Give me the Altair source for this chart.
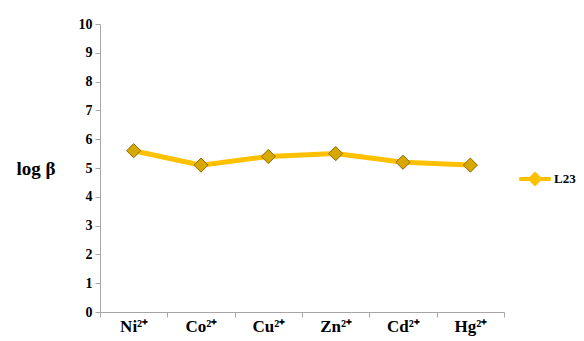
import altair as alt
import pandas as pd

ions = ["Ni²⁺", "Co²⁺", "Cu²⁺", "Zn²⁺", "Cd²⁺", "Hg²⁺"]
log_beta = [5.6, 5.1, 5.4, 5.5, 5.2, 5.1]
series = ["L23"] * 6

df = pd.DataFrame({"ion": ions, "logb": log_beta, "series": series})

FONT = "Liberation Serif"

x = alt.X("ion:N", sort=ions, title=None,
          scale=alt.Scale(paddingInner=0, paddingOuter=0),
          axis=alt.Axis(labelAngle=0, labelFont=FONT, labelFontSize=17, labelFontWeight="bold",
                        labelColor="black", labelPadding=1, tickBand="extent", tickSize=5,
                        domainColor="#a6a6a6", tickColor="#a6a6a6", grid=False))
y = alt.Y("logb:Q", title="log β",
          scale=alt.Scale(domain=[0, 10], nice=False, zero=True),
          axis=alt.Axis(values=list(range(0, 11)), labelFont=FONT, labelFontSize=14,
                        labelFontWeight="bold", labelColor="black", tickSize=5, labelPadding=3,
                        domainColor="#a6a6a6", tickColor="#a6a6a6", grid=False,
                        titleAngle=0, titleFont=FONT, titleFontSize=19, titleFontWeight="bold",
                        titleAlign="right", titleBaseline="middle", titleX=-45, titleY=144,
                        titleColor="black"))

line = alt.Chart(df).mark_line(strokeWidth=5).encode(
    x=x, y=y,
    color=alt.Color("series:N", title=None,
                    scale=alt.Scale(range=["#FFC000"]),
                    legend=alt.Legend(orient="none", legendX=417, legendY=137,
                                      symbolType="M-1,0L1,0M0,-0.3L0.3,0L0,0.3L-0.3,0Z",
                                      symbolSize=1000, symbolStrokeWidth=4,
                                      symbolFillColor="#C99A00",
                                      labelFont=FONT, labelFontSize=13, labelFontWeight="bold",
                                      labelColor="black", labelOffset=1))
)
pts = alt.Chart(df).mark_point(shape="diamond", filled=True, size=200, fill="#D6A800",
                               stroke="#8A6A00", strokeWidth=1, opacity=1).encode(x=x, y=y)

chart = (line + pts).properties(
    width=404, height=288,
    padding={"left": 92, "top": 16, "right": 72, "bottom": 24},
    autosize=alt.AutoSizeParams(type="none"),
).configure_view(stroke=None)

chart.save("out.html", embed_options={"renderer": "svg", "actions": False})
